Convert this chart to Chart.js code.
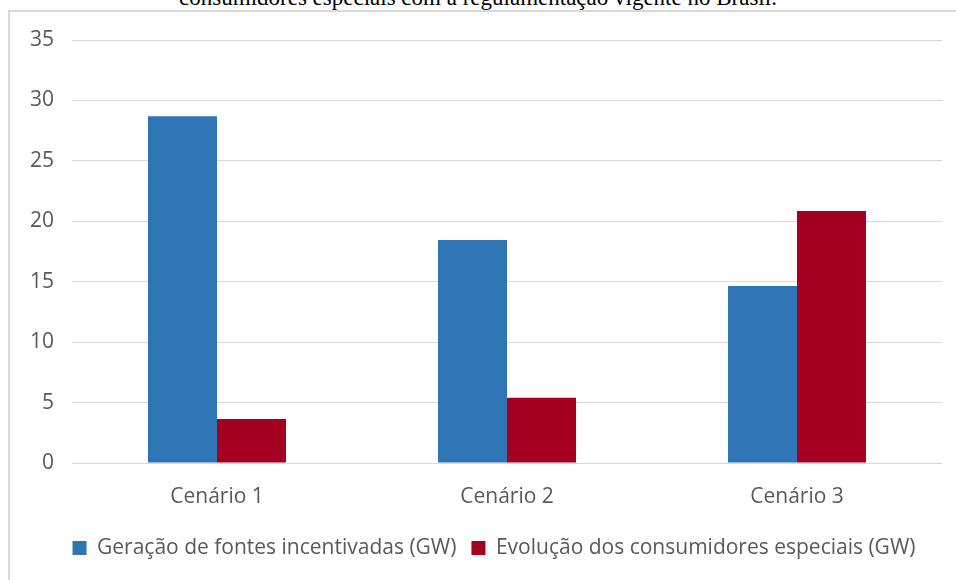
<!DOCTYPE html>
<html>
<head>
<meta charset="utf-8">
<script src="https://cdn.jsdelivr.net/npm/chart.js@4.4.1/dist/chart.umd.min.js"></script>
<style>
  body { margin: 0; background: #fff; }
  #wrap { position: relative; width: 956px; height: 580px; overflow: hidden; }
  #caption { position: absolute; left: 0; width: 956px; top: -15px; text-align: center;
    font-family: "Liberation Serif", serif; font-size: 23px; line-height: 26px; color: #000; }
  #frame { position: absolute; left: 8px; top: 10px; width: 960px; height: 580px;
    border-left: 2px solid #d9d9d9; border-top: 2px solid #d9d9d9; }
  #chart { position: absolute; left: 0; top: 0; }
</style>
</head>
<body>
<div id="wrap">
  <div id="caption">consumidores especiais com a regulamentação vigente no Brasil.</div>
  <div id="frame"></div>
  <canvas id="chart" width="956" height="580"></canvas>
</div>
<script>
// Dados
var cenarios = ['Cenário 1', 'Cenário 2', 'Cenário 3'];
var geracaoIncentivadas = [28.7, 18.45, 14.65];
var consumidoresEspeciais = [3.65, 5.4, 20.85];
var nomesSeries = ['Geração de fontes incentivadas (GW)', 'Evolução dos consumidores especiais (GW)'];

var fonte = '"Open Sans", sans-serif';

// desloca a legenda para a direita (no original ela fica centrada sob a área do gráfico)
var deslocaLegenda = {
    id: 'deslocaLegenda',
    afterLayout: function (chart) {
        chart.legend.left += 18;
        chart.legend.right += 18;
    }
};

var ctx = document.getElementById('chart');
new Chart(ctx, {
    type: 'bar',
    data: {
        labels: cenarios,
        datasets: [{
            label: nomesSeries[0],
            data: geracaoIncentivadas,
            backgroundColor: '#2e75b6',
            barPercentage: 1,
            categoryPercentage: 0.476
        }, {
            label: nomesSeries[1],
            data: consumidoresEspeciais,
            backgroundColor: '#a50021',
            barPercentage: 1,
            categoryPercentage: 0.476
        }]
    },
    options: {
        responsive: false,
        animation: false,
        layout: { padding: { left: 10, right: 14, top: 40, bottom: 11.5 } },
        plugins: {
            tooltip: { enabled: false },
            legend: {
                position: 'bottom',
                labels: {
                    boxWidth: 14, boxHeight: 14, padding: 15,
                    color: '#595959',
                    font: { family: fonte, size: 21 }
                }
            }
        },
        scales: {
            x: {
                grid: { display: false, drawTicks: false },
                border: { display: false },
                ticks: { color: '#595959', padding: 21, font: { family: fonte, size: 21 } },
                afterFit: function (s) { s.height = 59.5; }
            },
            y: {
                min: 0, max: 35,
                ticks: { stepSize: 5, color: '#595959', padding: 18, font: { family: fonte, size: 21 } },
                grid: { color: '#d9d9d9', drawTicks: false },
                border: { display: false },
                afterFit: function (s) { s.width = 62; }
            }
        }
    },
    plugins: [deslocaLegenda]
});
</script>
</body>
</html>
